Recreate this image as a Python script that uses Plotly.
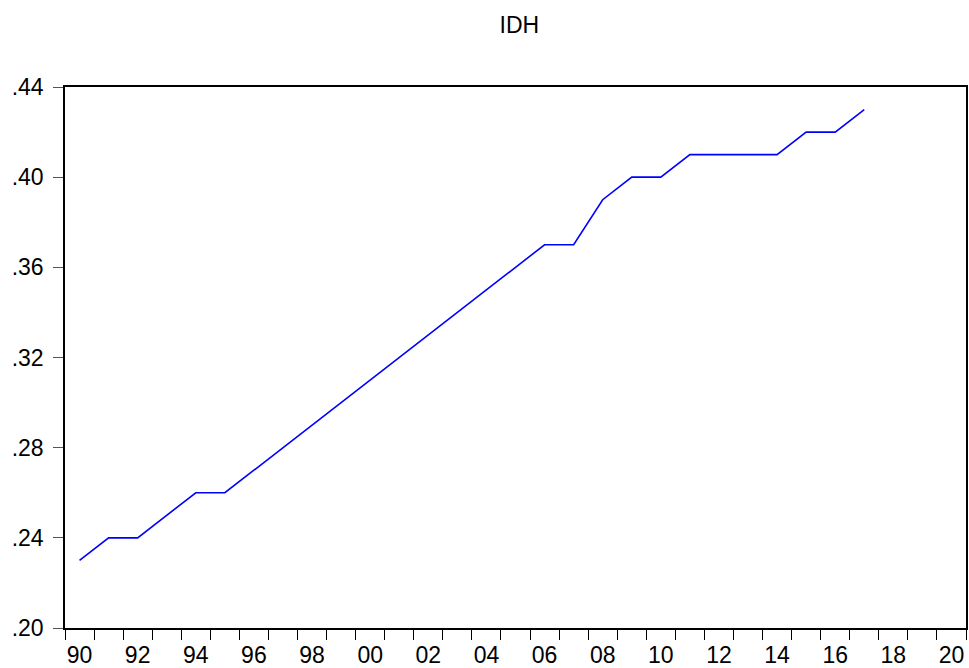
import plotly.graph_objects as go

years = list(range(1990, 2018))
idh = [0.23, 0.24, 0.24, 0.25, 0.26, 0.26, 0.27, 0.28, 0.29, 0.30,
       0.31, 0.32, 0.33, 0.34, 0.35, 0.36, 0.37, 0.37, 0.39, 0.40,
       0.40, 0.41, 0.41, 0.41, 0.41, 0.42, 0.42, 0.43]
x_label_years = list(range(1990, 2021, 2))
x_labels = [f"{y % 100:02d}" for y in x_label_years]
y_ticks = [0.20, 0.24, 0.28, 0.32, 0.36, 0.40, 0.44]
y_labels = [".20", ".24", ".28", ".32", ".36", ".40", ".44"]

# data points sit in the middle of each year period
x_pos = [y + 0.5 for y in years]

fig = go.Figure()
fig.add_trace(go.Scatter(x=x_pos, y=idh, mode="lines",
                         line=dict(color="#0000FF", width=1.6),
                         showlegend=False))

font = dict(family="Liberation Sans, Arial, sans-serif", size=23, color="black")

fig.update_layout(
    width=969, height=668,
    margin=dict(l=65, r=3, t=87, b=40, autoexpand=False),
    paper_bgcolor="white", plot_bgcolor="white",
    font=font,
    title=dict(text="IDH", x=0.536, xanchor="center", y=0.962, yanchor="middle",
               font=dict(family="Liberation Sans, Arial, sans-serif", size=23)),
    xaxis=dict(
        range=[1990, 2021],
        tickvals=[y + 0.5 for y in x_label_years],
        ticktext=x_labels,
        ticks="", showgrid=False, zeroline=False, automargin=False,
        ticklabelstandoff=6,
        showline=True, linecolor="black", linewidth=1.5, mirror=True,
        tickfont=font,
        minor=dict(tickvals=list(range(1990, 2022)), ticks="outside",
                   ticklen=10, tickcolor="black", tickwidth=1, showgrid=False),
    ),
    yaxis=dict(
        range=[0.20, 0.44],
        tickvals=y_ticks, ticktext=y_labels, automargin=False,
        ticks="outside", ticklen=10, tickcolor="#555555", tickwidth=1,
        ticklabelstandoff=5,
        showgrid=False, zeroline=False,
        showline=True, linecolor="black", linewidth=1.5, mirror=True,
        tickfont=font,
    ),
)

fig.write_html("out.html", config={"displayModeBar": False},
               post_script="document.body.style.margin='0';document.body.style.overflow='hidden';")
